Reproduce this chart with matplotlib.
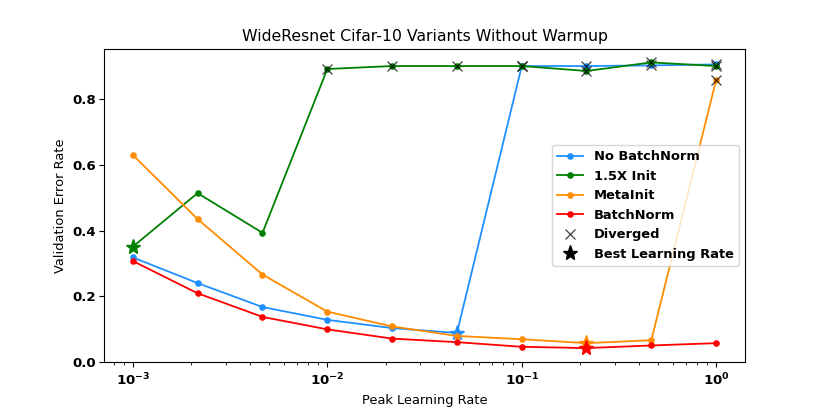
import matplotlib
matplotlib.use('Agg')
import matplotlib.pyplot as plt
from matplotlib.lines import Line2D

# peak learning rates used in the sweep
lrs = [1e-3, 2.15e-3, 4.64e-3, 1e-2, 2.15e-2, 4.64e-2, 1e-1, 2.15e-1, 4.64e-1, 1.0]

no_bn = [0.318, 0.240, 0.167, 0.128, 0.103, 0.088, 0.901, 0.901, 0.903, 0.906]
init_15x = [0.351, 0.514, 0.393, 0.892, 0.901, 0.901, 0.901, 0.886, 0.912, 0.901]
metainit = [0.630, 0.435, 0.266, 0.153, 0.108, 0.079, 0.069, 0.057, 0.066, 0.859]
batchnorm = [0.307, 0.209, 0.137, 0.099, 0.071, 0.060, 0.046, 0.042, 0.050, 0.057]

# index of first diverged run (None = never diverged), index of best lr
diverged_from = [6, 3, 9, None]
best_idx = [5, 0, 7, 7]

names = ['No BatchNorm', '1.5X Init', 'MetaInit', 'BatchNorm']
colors = ['dodgerblue', 'green', 'darkorange', 'red']
series = [no_bn, init_15x, metainit, batchnorm]

fig = plt.figure(figsize=(8.3, 4.15), dpi=100)
ax = fig.add_subplot(111)
fig.subplots_adjust(left=0.125, right=0.898, top=0.882, bottom=0.128)

for vals, name, c, div, best in zip(series, names, colors, diverged_from, best_idx):
    ax.plot(lrs, vals, color=c, marker='.', markersize=7.5, linewidth=1.3, label=name)
    if div is not None:
        ax.plot(lrs[div:], vals[div:], 'x', color='black', markersize=7.5,
                markeredgewidth=0.9, alpha=0.75, linestyle='none')
    ax.plot(lrs[best], vals[best], '*', color=c, markersize=11, linestyle='none')

ax.set_xscale('log')
ax.set_ylim(0, 0.953)
ax.set_title('WideResnet Cifar-10 Variants Without Warmup', fontsize=11.3)
ax.set_xlabel('Peak Learning Rate', fontsize=9.4)
ax.set_ylabel('Validation Error Rate', fontsize=9.4)
ax.tick_params(labelsize=9.6)
ax.tick_params(axis='y', pad=2)
for lbl in ax.get_xticklabels() + ax.get_yticklabels():
    lbl.set_fontweight('bold')

handles, labels = ax.get_legend_handles_labels()
handles += [Line2D([], [], color='black', marker='x', linestyle='none', markersize=7.5, markeredgewidth=0.9, alpha=0.75),
            Line2D([], [], color='black', marker='*', linestyle='none', markersize=11)]
labels += ['Diverged', 'Best Learning Rate']
ax.legend(handles, labels, loc='center right', prop={'weight': 'bold', 'size': 9.4})

fig.savefig('out.png', dpi=100)
